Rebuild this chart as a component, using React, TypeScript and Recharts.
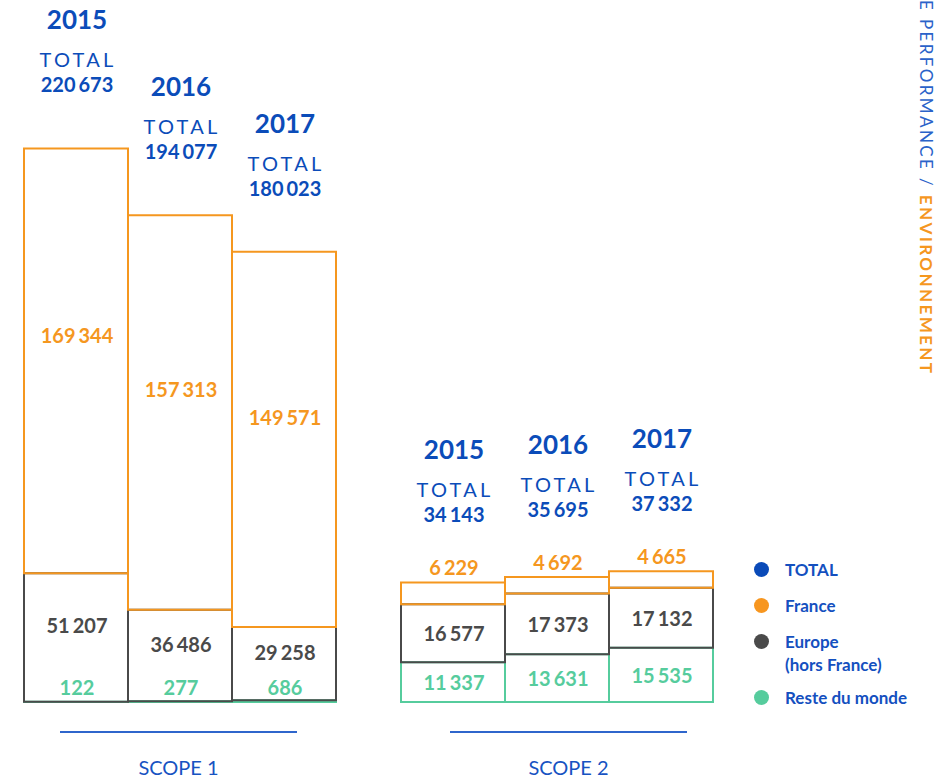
import { BarChart, Bar, XAxis, YAxis, LabelList } from "recharts"

const years = ["2015", "2016", "2017"]

const scope1Total = [220673, 194077, 180023]
const scope1France = [169344, 157313, 149571]
const scope1Europe = [51207, 36486, 29258]
const scope1Monde = [122, 277, 686]

const scope2Total = [34143, 35695, 37332]
const scope2France = [6229, 4692, 4665]
const scope2Europe = [16577, 17373, 17132]
const scope2Monde = [11337, 13631, 15535]

const legendItems = [
  { label: "TOTAL", color: "#0a4ab8" },
  { label: "France", color: "#f7961f" },
  { label: "Europe\n(hors France)", color: "#4a4a4a" },
  { label: "Reste du monde", color: "#56cc9d" },
]

const BLUE = "#0b4cb9"
const ORANGE = "#f5971f"
const GRAY = "#4a4a4a"
const GREEN = "#56cc9d"
const FONT = "Lato, 'Noto Sans', sans-serif"

// thousands groups, drawn with a small gap between them
const groups = (v: number) => String(v).replace(/\B(?=(\d{3})+(?!\d))/g, " ").split(" ")

const Num = ({ x, y, color, value, size = 20 }: { x: number; y: number; color: string; value: number; size?: number }) => (
  <text x={x} y={y} textAnchor="middle" dominantBaseline="central" fill={color}
    fontSize={size} fontWeight={700} fontFamily={FONT}>
    {groups(value).map((g, i) => (
      <tspan key={i} dx={i === 0 ? 0 : 3}>{g}</tspan>
    ))}
  </text>
)

// label props differ a bit between recharts versions
const box = (p: any) => {
  const v = p.viewBox && p.viewBox.x != null ? p.viewBox : p
  return { x: Number(v.x), y: Number(v.y), w: Number(v.width), h: Number(v.height) }
}

const build = (france: number[], europe: number[], monde: number[], total: number[]) =>
  years.map((year, i) => ({ year, france: france[i], europe: europe[i], monde: monde[i], total: total[i] }))

const scope1Data = build(scope1France, scope1Europe, scope1Monde, scope1Total)
const scope2Data = build(scope2France, scope2Europe, scope2Monde, scope2Total)

type ScopeProps = {
  data: any[]
  max: number
  left: number
  franceInside: boolean
  europeShift: number
  head: number
}

function ScopeChart({ data, max, left, franceInside, europeShift, head }: ScopeProps) {
  const mondeLabel = (p: any) => {
    const { x, y, w, h } = box(p)
    return <Num x={x + w / 2 + 1} y={Math.min(y + h / 2, y + h - 15)} color={GREEN} value={Number(p.value)} />
  }
  const europeLabel = (p: any) => {
    const { x, y, w, h } = box(p)
    return <Num x={x + w / 2 + 1} y={y + h / 2 + europeShift} color={GRAY} value={Number(p.value)} />
  }
  const franceLabel = (p: any) => {
    const { x, y, w, h } = box(p)
    return <Num x={x + w / 2 + 1} y={franceInside ? y + h * 0.44 : y - 15} color={ORANGE} value={Number(p.value)} />
  }
  const headLabel = (p: any) => {
    const { x, y, w } = box(p)
    const [year, total] = String(p.value).split("|")
    const cx = x + w / 2 + 1
    return (
      <g>
        <text x={cx} y={y - head} textAnchor="middle" dominantBaseline="central" fill={BLUE}
          fontSize={26} fontWeight={700} fontFamily={FONT}>{year}</text>
        <text x={cx + 1} y={y - head + 40} textAnchor="middle" dominantBaseline="central" fill={BLUE}
          fontSize={20} fontWeight={400} letterSpacing={3.2} fontFamily={FONT}>TOTAL</text>
        <Num x={cx} y={y - head + 65} color={BLUE} value={Number(total)} />
      </g>
    )
  }

  return (
    <div style={{ position: "absolute", left, top: 0 }}>
      <BarChart width={360} height={781} data={data} barCategoryGap={0} barGap={0}
        margin={{ top: 100, right: 24, bottom: 79, left: 24 }}>
        <XAxis dataKey="year" hide />
        <YAxis hide domain={[0, max]} />
        <Bar dataKey="monde" stackId="s" fill="none" stroke={GREEN} strokeWidth={2} isAnimationActive={false}>
          <LabelList dataKey="monde" content={mondeLabel} />
        </Bar>
        <Bar dataKey="europe" stackId="s" fill="none" stroke={GRAY} strokeWidth={2} isAnimationActive={false}>
          <LabelList dataKey="europe" content={europeLabel} />
        </Bar>
        <Bar dataKey="france" stackId="s" fill="none" stroke={ORANGE} strokeWidth={2} isAnimationActive={false}>
          <LabelList dataKey="france" content={franceLabel} />
          <LabelList dataKey={(d: any) => `${d.year}|${d.total}`} content={headLabel} />
        </Bar>
      </BarChart>
    </div>
  )
}

function ScopeTitle({ left, label }: { left: number; label: string }) {
  return (
    <div style={{ position: "absolute", left, top: 731, width: 237 }}>
      <div style={{ height: 2, background: "#2f66cc" }} />
      <div style={{ marginTop: 22, textAlign: "center", color: "#1753c2", fontFamily: FONT, fontSize: 20, fontWeight: 400 }}>
        {label}
      </div>
    </div>
  )
}

export default function App() {
  return (
    <div style={{ position: "absolute", left: 0, top: 0, width: 946, height: 781, background: "#fff", overflow: "hidden" }}>
      <ScopeChart data={scope1Data} max={240000} left={0} franceInside europeShift={-12} head={129} />
      <ScopeChart data={scope2Data} max={172000} left={377} franceInside={false} europeShift={0} head={133} />
      <ScopeTitle left={60} label="SCOPE 1" />
      <ScopeTitle left={450} label="SCOPE 2" />
      <div style={{ position: "absolute", left: 754, top: 558, fontFamily: FONT }}>
        {legendItems.map((item, i) => (
          <div key={item.label} style={{ display: "flex", alignItems: "flex-start", marginBottom: i === 2 ? 10 : 13 }}>
            <span style={{ width: 15, height: 15, borderRadius: "50%", background: item.color, marginTop: 4, marginRight: 16, flexShrink: 0 }} />
            <span style={{ color: "#1450bf", fontWeight: 700, fontSize: 17, lineHeight: "23px", whiteSpace: "pre" }}>{item.label}</span>
          </div>
        ))}
      </div>
      <div style={{ position: "absolute", left: 916, top: 0, writingMode: "vertical-rl", fontFamily: FONT, fontSize: 17, letterSpacing: 2.4, whiteSpace: "nowrap" }}>
        <span style={{ color: "#2a62c9" }}>E PERFORMANCE / </span>
        <span style={{ color: ORANGE, fontWeight: 700 }}>ENVIRONNEMENT</span>
      </div>
    </div>
  )
}
